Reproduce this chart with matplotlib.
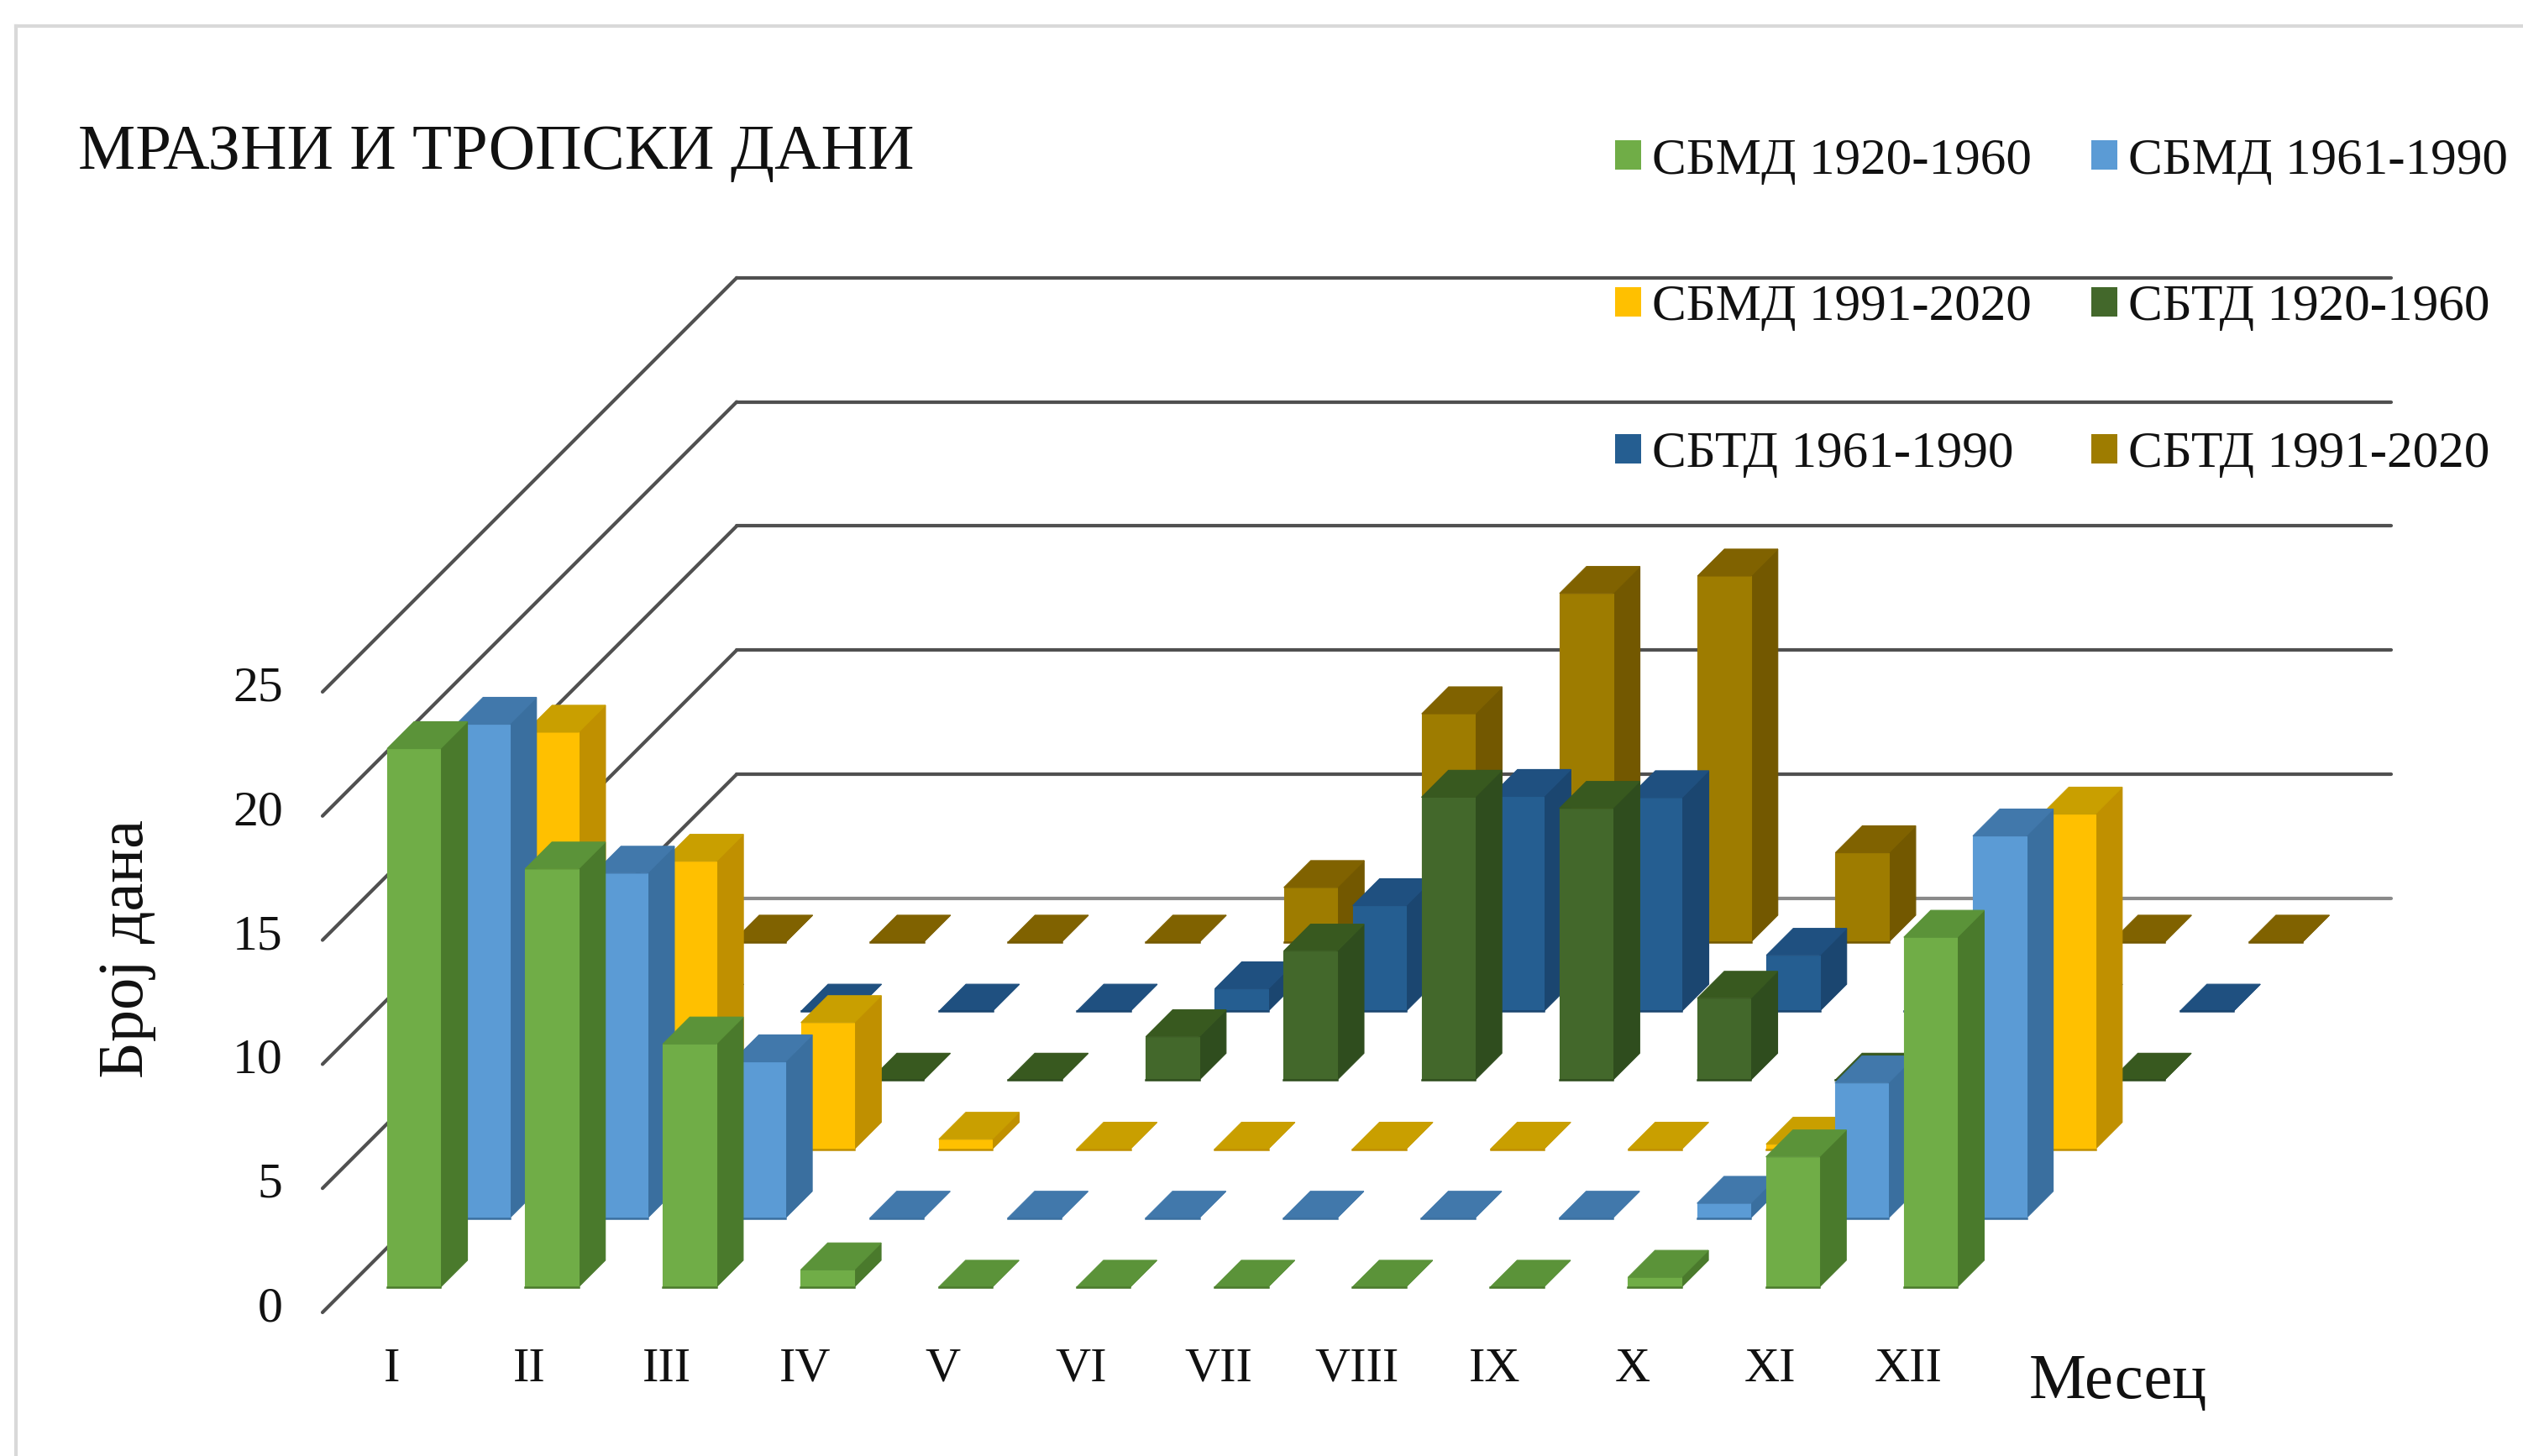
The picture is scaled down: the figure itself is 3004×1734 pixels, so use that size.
import matplotlib
matplotlib.use("Agg")
import matplotlib.pyplot as plt
from matplotlib.patches import Polygon, Patch
from matplotlib.lines import Line2D
from matplotlib.transforms import ScaledTranslation

plt.rcParams['font.family'] = ['Liberation Serif', 'DejaVu Serif']

months = ['I', 'II', 'III', 'IV', 'V', 'VI', 'VII', 'VIII', 'IX', 'X', 'XI', 'XII']
frost_1920_1960 = [21.7, 16.85, 9.8, 0.7, 0, 0, 0, 0, 0, 0.4, 5.25, 14.1]
frost_1961_1990 = [19.9, 13.9, 6.3, 0, 0, 0, 0, 0, 0, 0.6, 5.45, 15.4]
frost_1991_2020 = [16.8, 11.6, 5.1, 0.4, 0, 0, 0, 0, 0, 0.2, 3.0, 13.5]
trop_1920_1960 = [0, 0, 0, 0, 1.75, 5.2, 11.4, 10.95, 3.3, 0, 0, 0]
trop_1961_1990 = [0, 0, 0, 0, 0.9, 4.25, 8.65, 8.6, 2.25, 0, 0, 0]
trop_1991_2020 = [0, 0, 0, 0, 2.2, 9.2, 14.05, 14.75, 3.6, 0, 0, 0]
series_labels = ['СБМД 1920-1960', 'СБМД 1961-1990', 'СБМД 1991-2020',
                 'СБТД 1920-1960', 'СБТД 1961-1990', 'СБТД 1991-2020']
y_ticks = [0, 5, 10, 15, 20, 25]

series = [frost_1920_1960, frost_1961_1990, frost_1991_2020,
          trop_1920_1960, trop_1961_1990, trop_1991_2020]
front_cols = ['#70AD47', '#5B9BD5', '#FFC000', '#43682B', '#255E91', '#9E7C00']
side_cols = ['#4A7A2C', '#3A6F9F', '#C09000', '#2F4D1E', '#1B4670', '#735800']
top_cols = ['#5B9339', '#4178AB', '#C99F00', '#38591F', '#1F5080', '#806200']

W, H = 3004, 1734
PX_X0, PX_Y0 = 384, 1563      # floor front-left corner, pixels from top-left
PX_MONTH, PX_UNIT, PX_ROW = 164.17, 29.56, 82.2

fig = plt.figure(figsize=(W / 100, H / 100), dpi=100, facecolor='white')
ax = fig.add_axes([PX_X0 / W, (H - PX_Y0) / H, 12 * PX_MONTH / W, 25 * PX_UNIT / H])
ax.set_xlim(0, 12)
ax.set_ylim(0, 25)
ax.patch.set_visible(False)
for s in ax.spines.values():
    s.set_visible(False)

DX = PX_ROW / PX_MONTH      # month units per depth row
DY = PX_ROW / PX_UNIT       # value units per depth row


def proj(x, v, d):
    return (x + d * DX, v + d * DY)


# walls
n_rows = len(series)
for v in y_ticks:
    ax.add_line(Line2D(*zip(proj(0, v, 0), proj(0, v, n_rows)), color='#505050', lw=3.0,
                       clip_on=False, zorder=1, solid_capstyle='round'))
    ax.add_line(Line2D(*zip(proj(0, v, n_rows), proj(12, v, n_rows)),
                       color='#8A8A8A' if v == 0 else '#505050', lw=3.0,
                       clip_on=False, zorder=1, solid_capstyle='round'))

BAR_OFF, BAR_W = 0.286, 0.387
D_OFF, D_T = 0.365, 0.39
z = 2
for r in range(n_rows - 1, -1, -1):
    for m, val in enumerate(series[r]):
        x0, x1 = m + BAR_OFF, m + BAR_OFF + BAR_W
        d0, d1 = r + D_OFF, r + D_OFF + D_T
        faces = [
            ([proj(x1, 0, d0), proj(x1, 0, d1), proj(x1, val, d1), proj(x1, val, d0)], side_cols[r]),
            ([proj(x0, 0, d0), proj(x1, 0, d0), proj(x1, val, d0), proj(x0, val, d0)], front_cols[r]),
            ([proj(x0, val, d0), proj(x1, val, d0), proj(x1, val, d1), proj(x0, val, d1)], top_cols[r]),
        ]
        for pts, col in faces:
            ax.add_patch(Polygon(pts, closed=True, facecolor=col, edgecolor=col, lw=0.8,
                                 clip_on=False, zorder=z))
        ax.add_line(Line2D(*zip(proj(x0, 0, d0), proj(x1, 0, d0)), color=side_cols[r], lw=1.8,
                           clip_on=False, zorder=z))
        z += 1

# axes ticks and labels
ax.set_xticks([i + 0.5 for i in range(len(months))])
ax.set_xticklabels(months, fontsize=42, color='#111111')
ax.set_yticks(y_ticks)
ax.set_yticklabels([str(t) for t in y_ticks], fontsize=43, color='#111111')
ax.tick_params(axis='x', length=0, pad=30)
ax.tick_params(axis='y', length=0, pad=34)
shift = ScaledTranslation(0, 10 / 100, fig.dpi_scale_trans)
for lab in ax.get_yticklabels():
    lab.set_transform(lab.get_transform() + shift)

ax.set_ylabel('Број дана', fontsize=55, color='#111111')
ax.yaxis.set_label_coords((186 - PX_X0) / (12 * PX_MONTH), (PX_Y0 - 1130) / (25 * PX_UNIT))
ax.set_xlabel('Месец', fontsize=55, color='#111111')
ax.xaxis.set_label_coords((2522 - PX_X0) / (12 * PX_MONTH), (PX_Y0 - 1612) / (25 * PX_UNIT))

fig.text(93 / W, 1 - 201 / H, 'МРАЗНИ И ТРОПСКИ ДАНИ', fontsize=55.3, color='#111111',
         ha='left', va='baseline')

# legend, filled row by row
order = [0, 2, 4, 1, 3, 5]
handles = [Patch(facecolor=front_cols[i], edgecolor='none') for i in order]
labels = [series_labels[i] for i in order]
FS = 44
em = FS * 100 / 72
leg = fig.legend(handles, labels, ncol=2, fontsize=FS, frameon=False,
                 loc='upper left', bbox_to_anchor=(1923 / W, 1 - 164 / H),
                 borderpad=0, borderaxespad=0,
                 handlelength=31 / em, handleheight=31 / em, handletextpad=13 / em,
                 labelspacing=1.95, columnspacing=1.16)
for t in leg.get_texts():
    t.set_color('#111111')

# chart-area border (only top and left edges are inside the crop)
fig.add_artist(Line2D([19 / W, 19 / W], [0, 1 - 31 / H], transform=fig.transFigure,
                      color='#D9D9D9', lw=3))
fig.add_artist(Line2D([19 / W, 1], [1 - 31 / H, 1 - 31 / H], transform=fig.transFigure,
                      color='#D9D9D9', lw=3))

fig.savefig('out.png', dpi=100, facecolor='white')
